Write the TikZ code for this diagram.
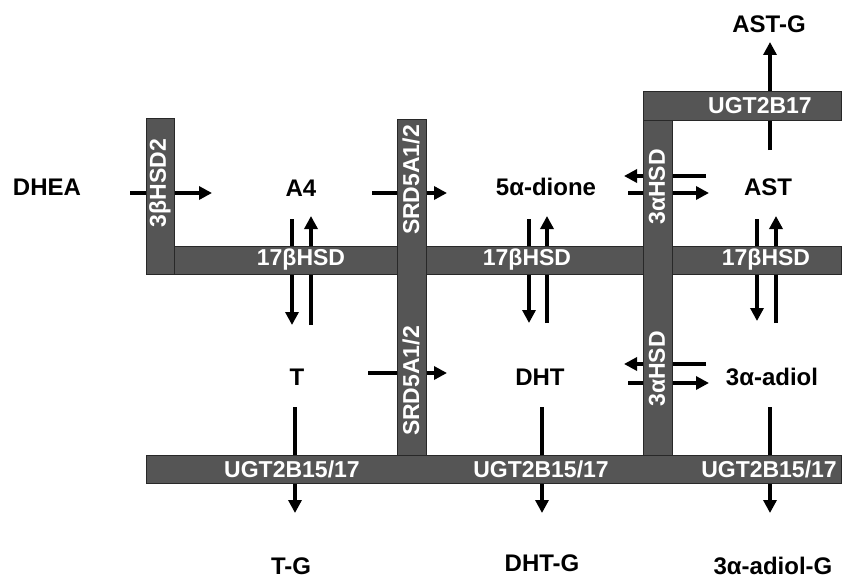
\documentclass[tikz,border=0pt]{standalone}
\usepackage{fontspec}
\setmainfont{Liberation Sans}
\usetikzlibrary{arrows.meta,calc}
\definecolor{barg}{RGB}{85,85,85}
\definecolor{barb}{RGB}{40,40,40}
\begin{document}
\begin{tikzpicture}[x=1pt,y=-1pt,
  arr/.style={line width=3.8pt,-{Triangle[length=13pt,width=13pt]}},
  lab/.style={font=\fontsize{24}{28}\selectfont\bfseries,inner sep=0pt},
  barlab/.style={font=\fontsize{23}{27}\selectfont\bfseries,text=white,inner sep=0pt},
  bar/.style={fill=barg,draw=barb,line width=1pt}]
\useasboundingbox (0,0) rectangle (844,578);
% metabolites
\node[lab] (DHEA)  at (47,187)  {DHEA};
\node[lab] (A4)    at (301,188) {A4};
\node[lab] (dione) at (546,187) {5α-dione};
\node[lab] (AST)   at (768,187) {AST};
\node[lab] (T)     at (297,377) {T};
\node[lab] (DHT)   at (540,377) {DHT};
\node[lab] (adiol) at (772,377) {3α-adiol};
\node[lab] (TG)    at (291,566) {T-G};
\node[lab] (DHTG)  at (542,563) {DHT-G};
\node[lab] (adiolG) at (773,566) {3α-adiol-G};
\node[lab] (ASTG)  at (769,24)  {AST-G};
% connectors (drawn below the enzyme bars)
\draw[arr] ($(DHEA.center)+(83,6)$) -- ($(A4.center)+(-89,5)$);
\draw[arr] ($(A4.center)+(71,5)$) -- ($(dione.center)+(-99,6)$);
\draw[arr] ($(T.center)+(71,-4)$) -- ($(DHT.center)+(-93,-4)$);
\draw[arr] ($(dione.center)+(82,6)$) -- ($(AST.center)+(-59,6)$);
\draw[arr] ($(AST.center)+(-62,-11)$) -- ($(dione.center)+(78,-11)$);
\draw[arr] ($(DHT.center)+(88,6)$) -- ($(adiol.center)+(-63,6)$);
\draw[arr] ($(adiol.center)+(-66,-13)$) -- ($(DHT.center)+(84,-13)$);
\draw[arr] ($(A4.center)+(-9,31)$) -- ($(T.center)+(-5,-52)$);
\draw[arr] ($(T.center)+(14,-52)$) -- ($(A4.center)+(10,28)$);
\draw[arr] ($(dione.center)+(-17,32)$) -- ($(DHT.center)+(-11,-54)$);
\draw[arr] ($(DHT.center)+(7,-54)$) -- ($(dione.center)+(1,29)$);
\draw[arr] ($(AST.center)+(-11,32)$) -- ($(adiol.center)+(-15,-56)$);
\draw[arr] ($(adiol.center)+(4,-54)$) -- ($(AST.center)+(8,29)$);
\draw[arr] ($(T.center)+(-2,30)$) -- ($(TG.center)+(4,-53)$);
\draw[arr] ($(DHT.center)+(2,30)$) -- ($(DHTG.center)+(0,-50)$);
\draw[arr] ($(adiol.center)+(-2,30)$) -- ($(adiolG.center)+(-3,-53)$);
\draw[arr] ($(AST.center)+(2,-37)$) -- ($(ASTG.center)+(1,18)$);
% enzyme bars
\draw[bar] (174,246) rectangle (841,274);
\draw[bar] (146,118) rectangle (174,274);
\draw[bar] (397,119) rectangle (426,455);
\draw[bar] (643,120) rectangle (672,455);
\draw[bar] (643,92) rectangle (841,120);
\draw[bar] (146,455) rectangle (841,483);
% enzyme labels
\node[barlab] (hsd17a) at (301,260) {17βHSD};
\node[barlab] (hsd17b) at (527,260) {17βHSD};
\node[barlab] (hsd17c) at (766,260) {17βHSD};
\node[barlab] (ugta) at (292,469) {UGT2B15/17};
\node[barlab] (ugtb) at (541,469) {UGT2B15/17};
\node[barlab] (ugtc) at (769,469) {UGT2B15/17};
\node[barlab] (ugt17) at (760,106) {UGT2B17};
\node[barlab,rotate=90] (hsd3b) at (160,183) {3βHSD2};
\node[barlab,rotate=90] (srda) at (411,180) {SRD5A1/2};
\node[barlab,rotate=90] (srdb) at (411,381) {SRD5A1/2};
\node[barlab,rotate=90] (hsd3aa) at (657,187) {3αHSD};
\node[barlab,rotate=90] (hsd3ab) at (657,369) {3αHSD};
\end{tikzpicture}
\end{document}
